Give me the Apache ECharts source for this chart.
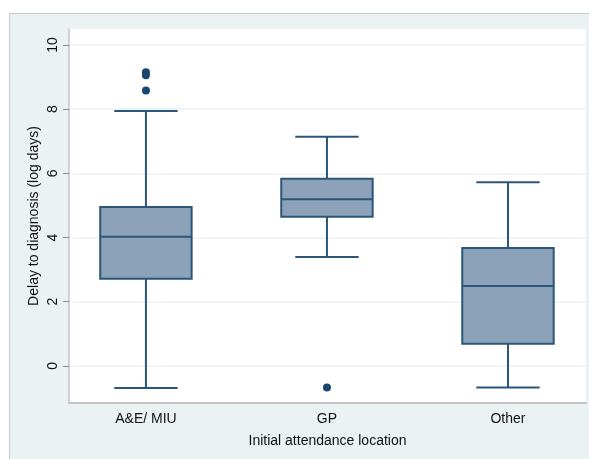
<!DOCTYPE html>
<html>
<head>
<meta charset="utf-8">
<script src="https://cdn.jsdelivr.net/npm/echarts@6/dist/echarts.min.js"></script>
<style>html,body{margin:0;padding:0;background:#fff}#c{width:589px;height:459px}</style>
</head>
<body>
<div id="c"></div>
<script>
var categories = ['A&E/ MIU', 'GP', 'Other'];
var lowerWhisker = [-0.69, 3.39, -0.68];
var q1 = [2.71, 4.65, 0.69];
var median = [4.02, 5.19, 2.49];
var q3 = [4.95, 5.83, 3.67];
var upperWhisker = [7.94, 7.14, 5.72];
var outlierCategory = [0, 0, 0, 1];
var outlierValue = [9.15, 9.06, 8.58, -0.68];
var yTicks = [0, 2, 4, 6, 8, 10];

var boxData = categories.map(function (c, i) {
  return [i, lowerWhisker[i], q1[i], median[i], q3[i], upperWhisker[i]];
});
var outlierData = outlierCategory.map(function (c, i) { return [c, outlierValue[i]]; });

var NAVY = '#1a476f';
var EDGE = '#2b5579';
var FILL = '#8ca2b8';

function renderBox(params, api) {
  var x = api.value(0);
  var lo = api.coord([x, api.value(1)]);
  var b1 = api.coord([x, api.value(2)]);
  var md = api.coord([x, api.value(3)]);
  var b3 = api.coord([x, api.value(4)]);
  var hi = api.coord([x, api.value(5)]);
  var bw = api.size([0.505, 0])[0];
  var cw = api.size([0.35, 0])[0];
  var cx = lo[0];
  var ls = { stroke: EDGE, lineWidth: 2 };
  return {
    type: 'group',
    children: [
      { type: 'line', shape: { x1: cx, y1: b3[1], x2: cx, y2: hi[1] }, style: ls },
      { type: 'line', shape: { x1: cx, y1: b1[1], x2: cx, y2: lo[1] }, style: ls },
      { type: 'line', shape: { x1: cx - cw / 2, y1: hi[1], x2: cx + cw / 2, y2: hi[1] }, style: ls },
      { type: 'line', shape: { x1: cx - cw / 2, y1: lo[1], x2: cx + cw / 2, y2: lo[1] }, style: ls },
      { type: 'rect', shape: { x: cx - bw / 2, y: b3[1], width: bw, height: b1[1] - b3[1] }, style: { fill: FILL, stroke: EDGE, lineWidth: 2 } },
      { type: 'line', shape: { x1: cx - bw / 2, y1: md[1], x2: cx + bw / 2, y2: md[1] }, style: ls }
    ]
  };
}

var chart = echarts.init(document.getElementById('c'), null, { renderer: 'canvas' });
chart.setOption({
  backgroundColor: '#ffffff',
  animation: false,
  textStyle: { fontFamily: 'Liberation Sans, Arial, sans-serif' },
  graphic: [{
    type: 'rect', z: -100, silent: true,
    shape: { x: 9.5, y: 13.5, width: 620, height: 500 },
    style: { fill: '#eaf2f3', stroke: '#c9c9c9', lineWidth: 1 }
  }],
  grid: {
    left: 69, top: 29, width: 517, height: 374,
    show: true, backgroundColor: '#ffffff', borderWidth: 0
  },
  xAxis: {
    type: 'value', min: -0.425, max: 2.431,
    axisLine: { show: true, onZero: false, lineStyle: { color: '#c4c4c4', width: 2 } },
    axisTick: { show: false },
    splitLine: { show: false },
    axisLabel: {
      customValues: [0, 1, 2],
      formatter: function (v) { return categories[Math.round(v)] || ''; },
      color: '#111', fontSize: 14, margin: 9
    },
    name: 'Initial attendance location',
    nameLocation: 'middle', nameGap: 31,
    nameTextStyle: { color: '#111', fontSize: 14 }
  },
  yAxis: {
    type: 'value', min: -1.16, max: 10.5,
    axisLine: { show: true, onZero: false, lineStyle: { color: '#c4c4c4', width: 1.5 } },
    axisTick: { show: true, customValues: yTicks, length: 6, lineStyle: { color: '#888' } },
    splitLine: { show: true, lineStyle: { color: '#eaf2f3', width: 1.5 } },
    axisLabel: {
      customValues: yTicks, rotate: 90, color: '#111', fontSize: 14, margin: 9
    },
    name: 'Delay to diagnosis (log days)',
    nameLocation: 'middle', nameGap: 28, nameMoveOverlap: false,
    nameTextStyle: { color: '#111', fontSize: 14 }
  },
  series: [
    {
      type: 'custom', renderItem: renderBox, data: boxData,
      encode: { x: 0, y: [1, 2, 3, 4, 5] }, z: 3
    },
    {
      type: 'scatter', data: outlierData, symbol: 'circle', symbolSize: 8,
      itemStyle: { color: NAVY, opacity: 1 }, z: 4
    }
  ]
});
</script>
</body>
</html>
